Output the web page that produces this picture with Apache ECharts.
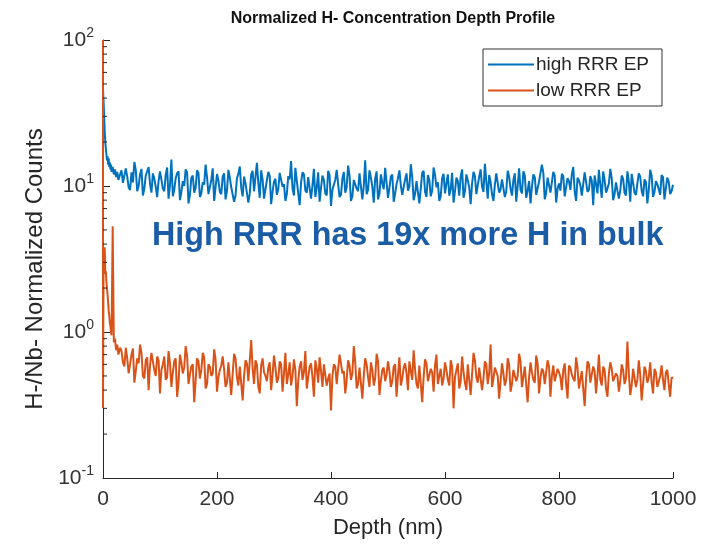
<!DOCTYPE html>
<html>
<head>
<meta charset="utf-8">
<script src="https://cdn.jsdelivr.net/npm/echarts@6/dist/echarts.min.js"></script>
<style>html,body{margin:0;padding:0;background:#fff}#c{width:720px;height:546px}</style>
</head>
<body>
<div id="c"></div>
<script>
// ---- data ----
var depth = [0,0,1,2,3,4,5,6,7,8,9,10,11,12,13,14,15,17,19,21,23,25,27,30,
35,40,45,50,55,60,65,70,75,80,85,90,95,100,
105,110,115,120,125,130,135,140,145,150,155,160,165,170,175,180,185,190,195,200,
205,210,215,220,225,230,235,240,245,250,255,260,265,270,275,280,285,290,295,300,
305,310,315,320,325,330,335,340,345,350,355,360,365,370,375,380,385,390,395,400,
405,410,415,420,425,430,435,440,445,450,455,460,465,470,475,480,485,490,495,500,
505,510,515,520,525,530,535,540,545,550,555,560,565,570,575,580,585,590,595,600,
605,610,615,620,625,630,635,640,645,650,655,660,665,670,675,680,685,690,695,700,
705,710,715,720,725,730,735,740,745,750,755,760,765,770,775,780,785,790,795,800,
805,810,815,820,825,830,835,840,845,850,855,860,865,870,875,880,885,890,895,900,
905,910,915,920,925,930,935,940,945,950,955,960,965,970,975,980,985,990,995,1000];

var highRRR = [1.0,46,38,30,24,20,18,16.5,15,16,14,15.5,13.5,14.5,13,14,12.5,13.5,12,13,11.5,12.5,11,12,
10.5,13.2,9.8,12.4,14.6,9.2,12.0,8.6,11.8,13.5,9.0,11.2,8.4,12.6,
9.6,11.9,8.2,15.2,9.4,12.2,8.0,10.8,13.0,7.6,11.4,9.0,12.8,8.4,10.6,14.0,8.8,11.0,7.9,12.1,
9.1,11.6,8.1,12.9,9.8,7.8,11.3,13.6,8.5,10.4,7.7,12.0,9.2,14.4,8.3,11.1,9.5,12.5,7.5,10.7,
8.7,12.3,9.9,7.9,11.7,14.8,8.6,10.9,7.4,12.4,9.3,11.5,8.2,13.1,9.7,7.8,11.8,8.9,12.7,7.3,
10.2,12.9,8.4,11.2,9.0,13.8,7.9,11.0,9.6,12.2,8.1,15.0,9.4,11.4,7.7,12.6,8.8,10.5,13.3,8.3,
11.6,7.8,10.3,12.8,8.7,11.1,9.3,14.1,8.0,10.8,7.6,12.3,9.1,11.9,8.5,13.4,9.8,7.9,11.3,8.9,
12.0,9.5,7.7,11.4,8.6,13.0,9.2,10.9,7.5,12.5,8.8,11.6,9.9,14.2,8.2,10.6,7.9,12.2,9.0,11.1,
8.4,12.7,9.6,11.0,7.8,13.2,8.9,11.8,9.3,7.6,12.0,8.7,10.7,14.0,8.1,11.4,9.0,12.5,7.7,10.4,
12.1,8.5,11.3,9.4,13.5,7.9,10.9,8.6,12.4,9.1,11.7,7.4,10.3,12.9,8.3,11.0,9.6,13.1,8.0,10.6,
8.2,11.8,9.0,12.6,7.8,10.5,8.7,12.2,9.3,11.1,7.6,12.9,8.4,10.8,9.5,11.9,8.1,11.4,8.8,10.2];

var lowRRR = [100,0.3,3.2,2.8,3.8,2.5,2.6,2.2,2.0,1.8,1.6,1.4,1.3,1.15,1.1,1.0,0.95,5.3,0.85,0.9,0.75,0.82,0.7,0.78,
0.62,0.78,0.52,0.70,0.45,0.66,0.82,0.50,0.64,0.40,0.72,0.55,0.68,0.38,
0.60,0.47,0.74,0.42,0.63,0.36,0.70,0.52,0.80,0.44,0.58,0.33,0.66,0.48,0.72,0.41,0.60,0.50,0.76,0.39,
0.55,0.68,0.42,0.62,0.37,0.71,0.49,0.58,0.34,0.64,0.46,0.88,0.44,0.60,0.38,0.66,0.50,0.57,0.40,0.69,
0.45,0.63,0.39,0.72,0.51,0.43,0.65,0.31,0.58,0.47,0.74,0.40,0.61,0.36,0.56,0.67,0.42,0.59,0.48,0.29,
0.60,0.44,0.70,0.52,0.38,0.64,0.47,0.80,0.41,0.57,0.35,0.66,0.49,0.62,0.43,0.71,0.37,0.55,0.46,0.63,
0.42,0.58,0.36,0.67,0.48,0.61,0.40,0.54,0.75,0.44,0.59,0.33,0.65,0.46,0.56,0.39,0.70,0.50,0.43,0.62,
0.47,0.64,0.30,0.55,0.41,0.68,0.45,0.60,0.37,0.72,0.49,0.57,0.40,0.63,0.44,0.82,0.48,0.58,0.35,0.61,
0.43,0.66,0.39,0.55,0.46,0.71,0.42,0.58,0.33,0.62,0.47,0.69,0.38,0.56,0.44,0.64,0.36,0.59,0.45,0.53,
0.40,0.61,0.35,0.57,0.48,0.67,0.41,0.54,0.31,0.63,0.45,0.58,0.38,0.70,0.43,0.55,0.36,0.62,0.46,0.52,
0.39,0.60,0.44,0.86,0.37,0.56,0.42,0.64,0.34,0.58,0.45,0.62,0.38,0.53,0.43,0.59,0.40,0.55,0.36,0.48];

// in-between samples (dense noise band)
var depthMid = [32.5,37.5,42.5,47.5,52.5,57.5,62.5,67.5,72.5,77.5,82.5,87.5,92.5,97.5,
102.5,107.5,112.5,117.5,122.5,127.5,132.5,137.5,142.5,147.5,152.5,157.5,162.5,167.5,172.5,177.5,182.5,187.5,192.5,197.5,
202.5,207.5,212.5,217.5,222.5,227.5,232.5,237.5,242.5,247.5,252.5,257.5,262.5,267.5,272.5,277.5,282.5,287.5,292.5,297.5,
302.5,307.5,312.5,317.5,322.5,327.5,332.5,337.5,342.5,347.5,352.5,357.5,362.5,367.5,372.5,377.5,382.5,387.5,392.5,397.5,
402.5,407.5,412.5,417.5,422.5,427.5,432.5,437.5,442.5,447.5,452.5,457.5,462.5,467.5,472.5,477.5,482.5,487.5,492.5,497.5,
502.5,507.5,512.5,517.5,522.5,527.5,532.5,537.5,542.5,547.5,552.5,557.5,562.5,567.5,572.5,577.5,582.5,587.5,592.5,597.5,
602.5,607.5,612.5,617.5,622.5,627.5,632.5,637.5,642.5,647.5,652.5,657.5,662.5,667.5,672.5,677.5,682.5,687.5,692.5,697.5,
702.5,707.5,712.5,717.5,722.5,727.5,732.5,737.5,742.5,747.5,752.5,757.5,762.5,767.5,772.5,777.5,782.5,787.5,792.5,797.5,
802.5,807.5,812.5,817.5,822.5,827.5,832.5,837.5,842.5,847.5,852.5,857.5,862.5,867.5,872.5,877.5,882.5,887.5,892.5,897.5,
902.5,907.5,912.5,917.5,922.5,927.5,932.5,937.5,942.5,947.5,952.5,957.5,962.5,967.5,972.5,977.5,982.5,987.5,992.5,997.5];

var highRRRMid = [12.8,10.2,11.6,9.4,10.6,12.9,10.0,13.1,9.6,11.5,10.3,12.2,9.9,10.8,
11.0,9.2,13.4,10.1,8.5,11.3,12.6,9.1,10.0,12.4,8.7,11.8,9.7,12.3,8.9,10.2,11.5,9.0,13.2,9.8,
10.9,8.8,12.2,9.3,11.4,10.0,8.6,12.1,9.7,11.6,10.2,8.9,12.7,9.4,10.5,12.8,8.2,10.9,11.7,9.1,
11.2,9.5,12.6,10.3,8.8,11.1,9.6,13.3,8.9,10.6,12.0,9.0,11.5,10.1,8.4,12.4,9.7,11.0,8.6,11.9,
9.4,11.0,10.3,8.7,12.5,9.8,11.8,8.5,10.7,9.2,12.3,10.0,8.8,12.8,9.9,11.2,8.1,12.0,9.5,10.6,
9.7,12.0,8.9,11.3,10.1,8.6,12.2,9.9,11.5,8.8,10.5,9.6,12.7,8.4,11.0,9.3,11.9,10.6,8.5,12.1,
10.4,8.6,12.3,9.2,10.8,11.6,8.3,12.0,9.8,10.4,11.7,8.9,13.0,9.1,10.7,11.9,8.8,10.2,12.4,9.5,
10.9,9.2,11.6,8.6,12.2,10.0,9.4,12.6,8.3,10.8,9.9,11.5,8.8,10.6,12.3,9.0,11.1,8.9,11.8,9.6,
9.3,11.7,8.7,10.8,12.0,9.2,11.4,10.1,8.5,12.2,9.4,10.9,11.8,8.9,10.2,12.6,9.0,10.4,11.3,8.8,
10.9,9.3,11.2,8.6,10.7,12.1,9.0,10.4,11.6,8.5,10.6,9.4,11.8,9.1,10.3,8.7,11.5,9.6,10.7,9.2];

var lowRRRMid = [0.74,0.58,0.66,0.60,0.77,0.54,0.61,0.72,0.48,0.67,0.59,0.63,0.50,0.64,
0.55,0.68,0.49,0.61,0.53,0.66,0.45,0.62,0.57,0.69,0.51,0.60,0.46,0.63,0.55,0.67,0.44,0.58,0.52,0.65,
0.49,0.59,0.55,0.45,0.63,0.52,0.66,0.43,0.57,0.50,0.61,0.47,0.56,0.64,0.42,0.59,0.53,0.46,0.62,0.51,
0.57,0.48,0.60,0.52,0.44,0.62,0.50,0.55,0.46,0.63,0.53,0.41,0.58,0.49,0.64,0.45,0.54,0.60,0.43,0.52,
0.50,0.58,0.45,0.61,0.54,0.47,0.59,0.52,0.62,0.44,0.56,0.50,0.60,0.42,0.55,0.48,0.63,0.46,0.57,0.51,
0.54,0.46,0.60,0.50,0.43,0.57,0.52,0.63,0.47,0.55,0.41,0.58,0.49,0.61,0.45,0.53,0.59,0.44,0.56,0.48,
0.55,0.43,0.58,0.49,0.61,0.46,0.53,0.40,0.59,0.51,0.64,0.45,0.56,0.48,0.60,0.52,0.42,0.57,0.50,0.46,
0.52,0.47,0.60,0.44,0.55,0.50,0.63,0.41,0.57,0.49,0.53,0.45,0.61,0.48,0.54,0.43,0.58,0.50,0.46,0.56,
0.49,0.55,0.44,0.59,0.51,0.46,0.57,0.42,0.53,0.48,0.60,0.44,0.54,0.50,0.47,0.58,0.41,0.52,0.56,0.45,
0.50,0.46,0.55,0.48,0.52,0.43,0.57,0.47,0.51,0.44,0.54,0.49,0.45,0.56,0.42,0.50,0.47,0.53,0.44,0.49];

var seriesNames = ['high RRR EP', 'low RRR EP'];
var xTicks = [0, 200, 400, 600, 800, 1000];
var minorTickValues = [0.2,0.3,0.4,0.5,0.6,0.7,0.8,0.9, 2,3,4,5,6,7,8,9, 20,30,40,50,60,70,80,90];
var titleText = 'Normalized H- Concentration Depth Profile';
var annotationText = 'High RRR has 19x more H in bulk';

// ---- chart ----
function merge(xa, ya, xb, yb) {
  var o = [];
  for (var i = 0; i < ya.length; i++) o.push([xa[i], ya[i], i]);
  for (var j = 0; j < yb.length; j++) o.push([xb[j], yb[j], 100000 + j]);
  o.sort(function (p, q) { return p[0] - q[0] || p[2] - q[2]; });
  return o.map(function (p) { return [p[0], p[1]]; });
}
var axisColor = '#262626';
var font = '"Liberation Sans", Arial, sans-serif';

var chart = echarts.init(document.getElementById('c'), null, { renderer: 'canvas' });
chart.setOption({
  backgroundColor: '#ffffff',
  animation: false,
  textStyle: { fontFamily: font },
  title: [
    { text: titleText, left: 388, top: 6, textAlign: 'center',
      textStyle: { fontSize: 16, fontWeight: 'bold', color: '#111', fontFamily: font } },
    { text: annotationText, left: 147, top: 215,
      textStyle: { fontSize: 32.3, fontWeight: 'bold', color: '#1a5ca6', fontFamily: font } }
  ],
  legend: {
    data: seriesNames,
    orient: 'vertical', left: 483, top: 49,
    padding: [6, 13, 6, 5], itemGap: 7,
    itemWidth: 46, itemHeight: 2, icon: 'rect',
    borderColor: '#333', borderWidth: 1, backgroundColor: '#fff',
    textStyle: { fontSize: 19, color: axisColor, fontFamily: font, padding: [0,0,0,-3] }
  },
  grid: { left: 103, right: 47, top: 40, bottom: 68, containLabel: false },
  xAxis: {
    type: 'value', min: xTicks[0], max: xTicks[xTicks.length - 1], interval: 200,
    name: 'Depth (nm)', nameLocation: 'middle', nameGap: 39,
    nameTextStyle: { fontSize: 22, color: axisColor, fontFamily: font },
    axisLine: { lineStyle: { color: axisColor, width: 1 } },
    axisTick: { inside: true, length: 6, lineStyle: { color: axisColor } },
    axisLabel: { fontSize: 21, color: '#333', margin: 11, fontFamily: font,
      formatter: function (v) { return String(v); } },
    splitLine: { show: false }
  },
  yAxis: {
    type: 'log', logBase: 10, min: 0.1, max: 100,
    name: 'H-/Nb- Normalized Counts', nameLocation: 'middle', nameGap: 51, nameRotate: 90,
    nameTextStyle: { fontSize: 24, color: axisColor, fontFamily: font, padding: [0, 0, 0, -20] },
    axisLine: { show: true, lineStyle: { color: axisColor, width: 1 } },
    axisTick: { inside: true, length: 7, lineStyle: { color: axisColor } },
    axisLabel: {
      margin: 9, fontFamily: font,
      formatter: function (v) {
        var e = Math.round(Math.log10(v));
        return '{b|10}{s|' + e + '}';
      },
      rich: {
        b: { fontSize: 21, color: '#333', fontFamily: font },
        s: { fontSize: 14, color: '#333', fontFamily: font, verticalAlign: 'bottom', padding: [0, 0, 13, 0] }
      }
    },
    splitLine: { show: false }
  },
  series: [
    { name: seriesNames[0], type: 'line', data: merge(depth, highRRR, depthMid, highRRRMid), showSymbol: false, symbol: 'none',
      sampling: false, lineStyle: { color: '#0072BD', width: 2 }, itemStyle: { color: '#0072BD' }, z: 2 },
    { name: seriesNames[1], type: 'line', data: merge(depth, lowRRR, depthMid, lowRRRMid), showSymbol: false, symbol: 'none',
      sampling: false, lineStyle: { color: '#D95319', width: 2 }, itemStyle: { color: '#D95319' }, z: 3 },
    { name: 'minorTicks', type: 'custom', silent: true, z: 5,
      data: minorTickValues.map(function (v) { return [0, v]; }),
      renderItem: function (params, api) {
        var p = api.coord([0, api.value(1)]);
        return { type: 'line', shape: { x1: p[0], y1: p[1], x2: p[0] + 4, y2: p[1] },
                 style: { stroke: axisColor, lineWidth: 1 } };
      }
    }
  ]
});
</script>
</body>
</html>
